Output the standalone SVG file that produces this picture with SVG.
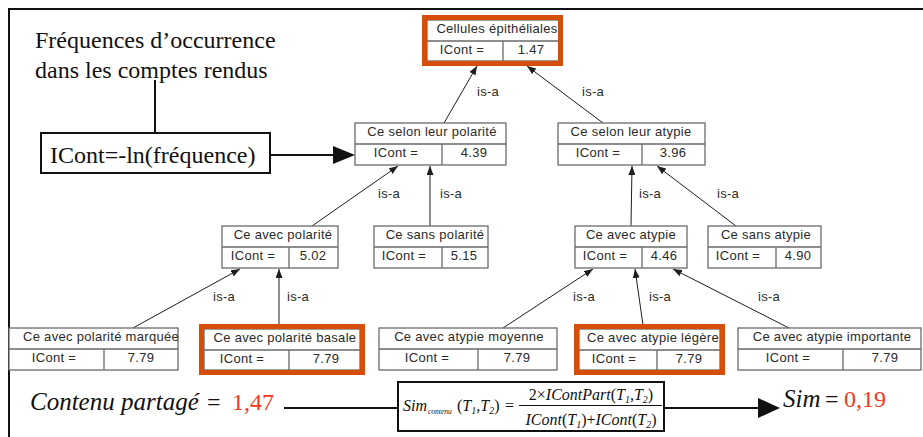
<svg xmlns="http://www.w3.org/2000/svg" width="923" height="437" viewBox="0 0 923 437">
<style>
.nb{fill:#fff;stroke:#6a6a6a;stroke-width:1.3}
.nl{stroke:#6a6a6a;stroke-width:1.3}
.t{font-family:"Liberation Sans",Arial,sans-serif;font-size:13px;fill:#2a2a2a;letter-spacing:0.3px;text-anchor:middle}
.lbl{font-family:"Liberation Sans",Arial,sans-serif;font-size:13px;fill:#2a2a2a;letter-spacing:0.3px}
.hl{fill:none;stroke:#d54f0b;stroke-width:5}
.c{stroke:#1e1e1e;stroke-width:1;fill:none;marker-end:url(#ah)}
.big{font-family:"Liberation Serif","Times New Roman",serif;font-size:24px;fill:#111}
.it{font-style:italic;font-size:25px}
.red{fill:#f5381c}
.m{font-family:"Liberation Serif","Times New Roman",serif;font-size:16px;font-style:italic;fill:#111}
.up{font-style:normal}
.sb{font-size:10px}
.thick{stroke:#111;stroke-width:2;fill:none}
</style>
<defs>
<marker id="ah" markerUnits="userSpaceOnUse" markerWidth="9" markerHeight="7" refX="9" refY="3.5" orient="auto">
<path d="M0,0 L9,3.5 L0,7 z" fill="#1e1e1e"/>
</marker>
</defs>
<rect width="923" height="437" fill="#fff"/>
<!-- frame -->
<path d="M9,437 V9 H923" class="thick"/>

<!-- intro text -->
<g id="intro">
<text x="35" y="48" class="big">Fréquences d’occurrence</text>
<text x="35" y="78" class="big">dans les comptes rendus</text>
<path d="M155,80 V132" class="thick"/>
<rect x="41" y="133" width="229" height="40" class="thick" fill="#fff"/>
<text x="50" y="163" class="big">ICont=-ln(fréquence)</text>
<path d="M270,155 H334" class="thick"/>
<path d="M333,146 L355,155 L333,164 z" fill="#111"/>
</g>

<!-- connectors -->
<g id="connectors">
<path class="c" d="M444,123 L477,66"/>
<path class="c" d="M603,123 L527,66"/>
<path class="c" d="M312,226 L398,166"/>
<path class="c" d="M430,226 L430,166"/>
<path class="c" d="M631,226 L632,166"/>
<path class="c" d="M736,226 L657,166"/>
<path class="c" d="M133,328 L240,269"/>
<path class="c" d="M279,325 L279,269"/>
<path class="c" d="M503,328 L593,269"/>
<path class="c" d="M643,325 L635,269"/>
<path class="c" d="M789,328 L673,269"/>
<text class="lbl" x="477" y="96">is-a</text>
<text class="lbl" x="582" y="96">is-a</text>
<text class="lbl" x="378" y="198">is-a</text>
<text class="lbl" x="440" y="198">is-a</text>
<text class="lbl" x="639" y="198">is-a</text>
<text class="lbl" x="717" y="198">is-a</text>
<text class="lbl" x="213" y="301">is-a</text>
<text class="lbl" x="287" y="301">is-a</text>
<text class="lbl" x="573" y="301">is-a</text>
<text class="lbl" x="649" y="301">is-a</text>
<text class="lbl" x="758" y="301">is-a</text>
</g>

<!-- nodes -->
<g id="n-cellules">
<rect class="nb" x="427" y="20" width="132" height="41"/>
<path class="nl" d="M427,41 H559 M503,41 V61"/>
<text class="t" x="497" y="33">Cellules épithéliales</text>
<text class="t" x="462" y="54">ICont =</text>
<text class="t" x="531" y="54">1.47</text>
<rect class="hl" x="424.5" y="17.5" width="136" height="46"/>
</g>

<g id="n-selon-polarite">
<rect class="nb" x="355" y="123" width="151" height="42"/>
<path class="nl" d="M355,144 H506 M442,144 V165"/>
<text class="t" x="432" y="136">Ce selon leur polarité</text>
<text class="t" x="396" y="157">ICont =</text>
<text class="t" x="474" y="157">4.39</text>
</g>

<g id="n-selon-atypie">
<rect class="nb" x="558" y="123" width="147" height="42"/>
<path class="nl" d="M558,144 H705 M642,144 V165"/>
<text class="t" x="631" y="136">Ce selon leur atypie</text>
<text class="t" x="598" y="157">ICont =</text>
<text class="t" x="673" y="157">3.96</text>
</g>

<g id="n-avec-polarite">
<rect class="nb" x="222" y="226" width="116" height="42"/>
<path class="nl" d="M222,247 H338 M289,247 V268"/>
<text class="t" x="283" y="239">Ce avec polarité</text>
<text class="t" x="253" y="260">ICont =</text>
<text class="t" x="313" y="260">5.02</text>
</g>

<g id="n-sans-polarite">
<rect class="nb" x="374" y="226" width="114" height="42"/>
<path class="nl" d="M374,247 H488 M442,247 V268"/>
<text class="t" x="435" y="239">Ce sans polarité</text>
<text class="t" x="404" y="260">ICont =</text>
<text class="t" x="464" y="260">5.15</text>
</g>

<g id="n-avec-atypie">
<rect class="nb" x="575" y="226" width="112" height="42"/>
<path class="nl" d="M575,247 H687 M642,247 V268"/>
<text class="t" x="631" y="239">Ce avec atypie</text>
<text class="t" x="605" y="260">ICont =</text>
<text class="t" x="664" y="260">4.46</text>
</g>

<g id="n-sans-atypie">
<rect class="nb" x="708" y="226" width="113" height="42"/>
<path class="nl" d="M708,247 H821 M776,247 V268"/>
<text class="t" x="766" y="239">Ce sans atypie</text>
<text class="t" x="738" y="260">ICont =</text>
<text class="t" x="798" y="260">4.90</text>
</g>

<g id="n-polarite-marquee">
<rect class="nb" x="9" y="328" width="169" height="42"/>
<path class="nl" d="M9,349 H178 M104,349 V370"/>
<text class="t" x="101" y="341">Ce avec polarité marquée</text>
<text class="t" x="54" y="362">ICont =</text>
<text class="t" x="141" y="362">7.79</text>
</g>

<g id="n-polarite-basale">
<rect class="nb" x="204" y="329" width="156" height="41"/>
<path class="nl" d="M204,350 H360 M289,350 V370"/>
<text class="t" x="285" y="342">Ce avec polarité basale</text>
<text class="t" x="242" y="363">ICont =</text>
<text class="t" x="326" y="363">7.79</text>
<rect class="hl" x="201.5" y="326.5" width="161" height="46"/>
</g>

<g id="n-atypie-moyenne">
<rect class="nb" x="379" y="328" width="178" height="42"/>
<path class="nl" d="M379,349 H557 M478,349 V370"/>
<text class="t" x="469" y="341">Ce avec atypie moyenne</text>
<text class="t" x="427" y="362">ICont =</text>
<text class="t" x="517" y="362">7.79</text>
</g>

<g id="n-atypie-legere">
<rect class="nb" x="579" y="329" width="141" height="41"/>
<path class="nl" d="M579,350 H720 M657,350 V370"/>
<text class="t" x="653" y="342">Ce avec atypie légère</text>
<text class="t" x="614" y="363">ICont =</text>
<text class="t" x="689" y="363">7.79</text>
<rect class="hl" x="576.5" y="326.5" width="146" height="46"/>
</g>

<g id="n-atypie-importante">
<rect class="nb" x="738" y="328" width="183" height="42"/>
<path class="nl" d="M738,349 H921 M843,349 V370"/>
<text class="t" x="832" y="341">Ce avec atypie importante</text>
<text class="t" x="788" y="362">ICont =</text>
<text class="t" x="885" y="362">7.79</text>
</g>

<!-- bottom formula -->
<g id="shared">
<text x="30" y="410" class="big it">Contenu partagé</text>
<text x="207" y="410" class="big">=</text>
<text x="232" y="410" class="big red">1,47</text>
<path d="M284,408 H398" class="thick"/>
</g>

<g id="formula">
<rect x="398" y="382" width="266" height="49" class="thick" fill="#fff"/>
<text class="m" x="403" y="411">Sim</text>
<text class="m" x="428" y="414" style="font-size:7.5px">contenu</text>
<text class="m" x="457" y="411"><tspan class="up">(</tspan>T<tspan class="sb" dy="3">1</tspan><tspan dy="-3">,</tspan>T<tspan class="sb" dy="3">2</tspan><tspan class="up" dy="-3">)</tspan></text>
<text class="m" x="505" y="411" style="font-style:normal">=</text>
<path d="M519,405.5 H662" stroke="#111" stroke-width="1"/>
<text class="m" x="591" y="400" text-anchor="middle"><tspan class="up">2×</tspan>IContPart<tspan class="up">(</tspan>T<tspan class="sb" dy="3">1</tspan><tspan dy="-3">,</tspan>T<tspan class="sb" dy="3">2</tspan><tspan class="up" dy="-3">)</tspan></text>
<text class="m" x="591" y="425" text-anchor="middle">ICont<tspan class="up">(</tspan>T<tspan class="sb" dy="3">1</tspan><tspan class="up" dy="-3">)+</tspan>ICont<tspan class="up">(</tspan>T<tspan class="sb" dy="3">2</tspan><tspan class="up" dy="-3">)</tspan></text>
</g>

<g id="result">
<path d="M664,408 H760" class="thick"/>
<path d="M758,398 L780,408 L758,418 z" fill="#111"/>
<text x="783" y="407" class="big it">Sim</text>
<text x="825" y="407" class="big">=</text>
<text x="844" y="407" class="big red">0,19</text>
</g>
</svg>
